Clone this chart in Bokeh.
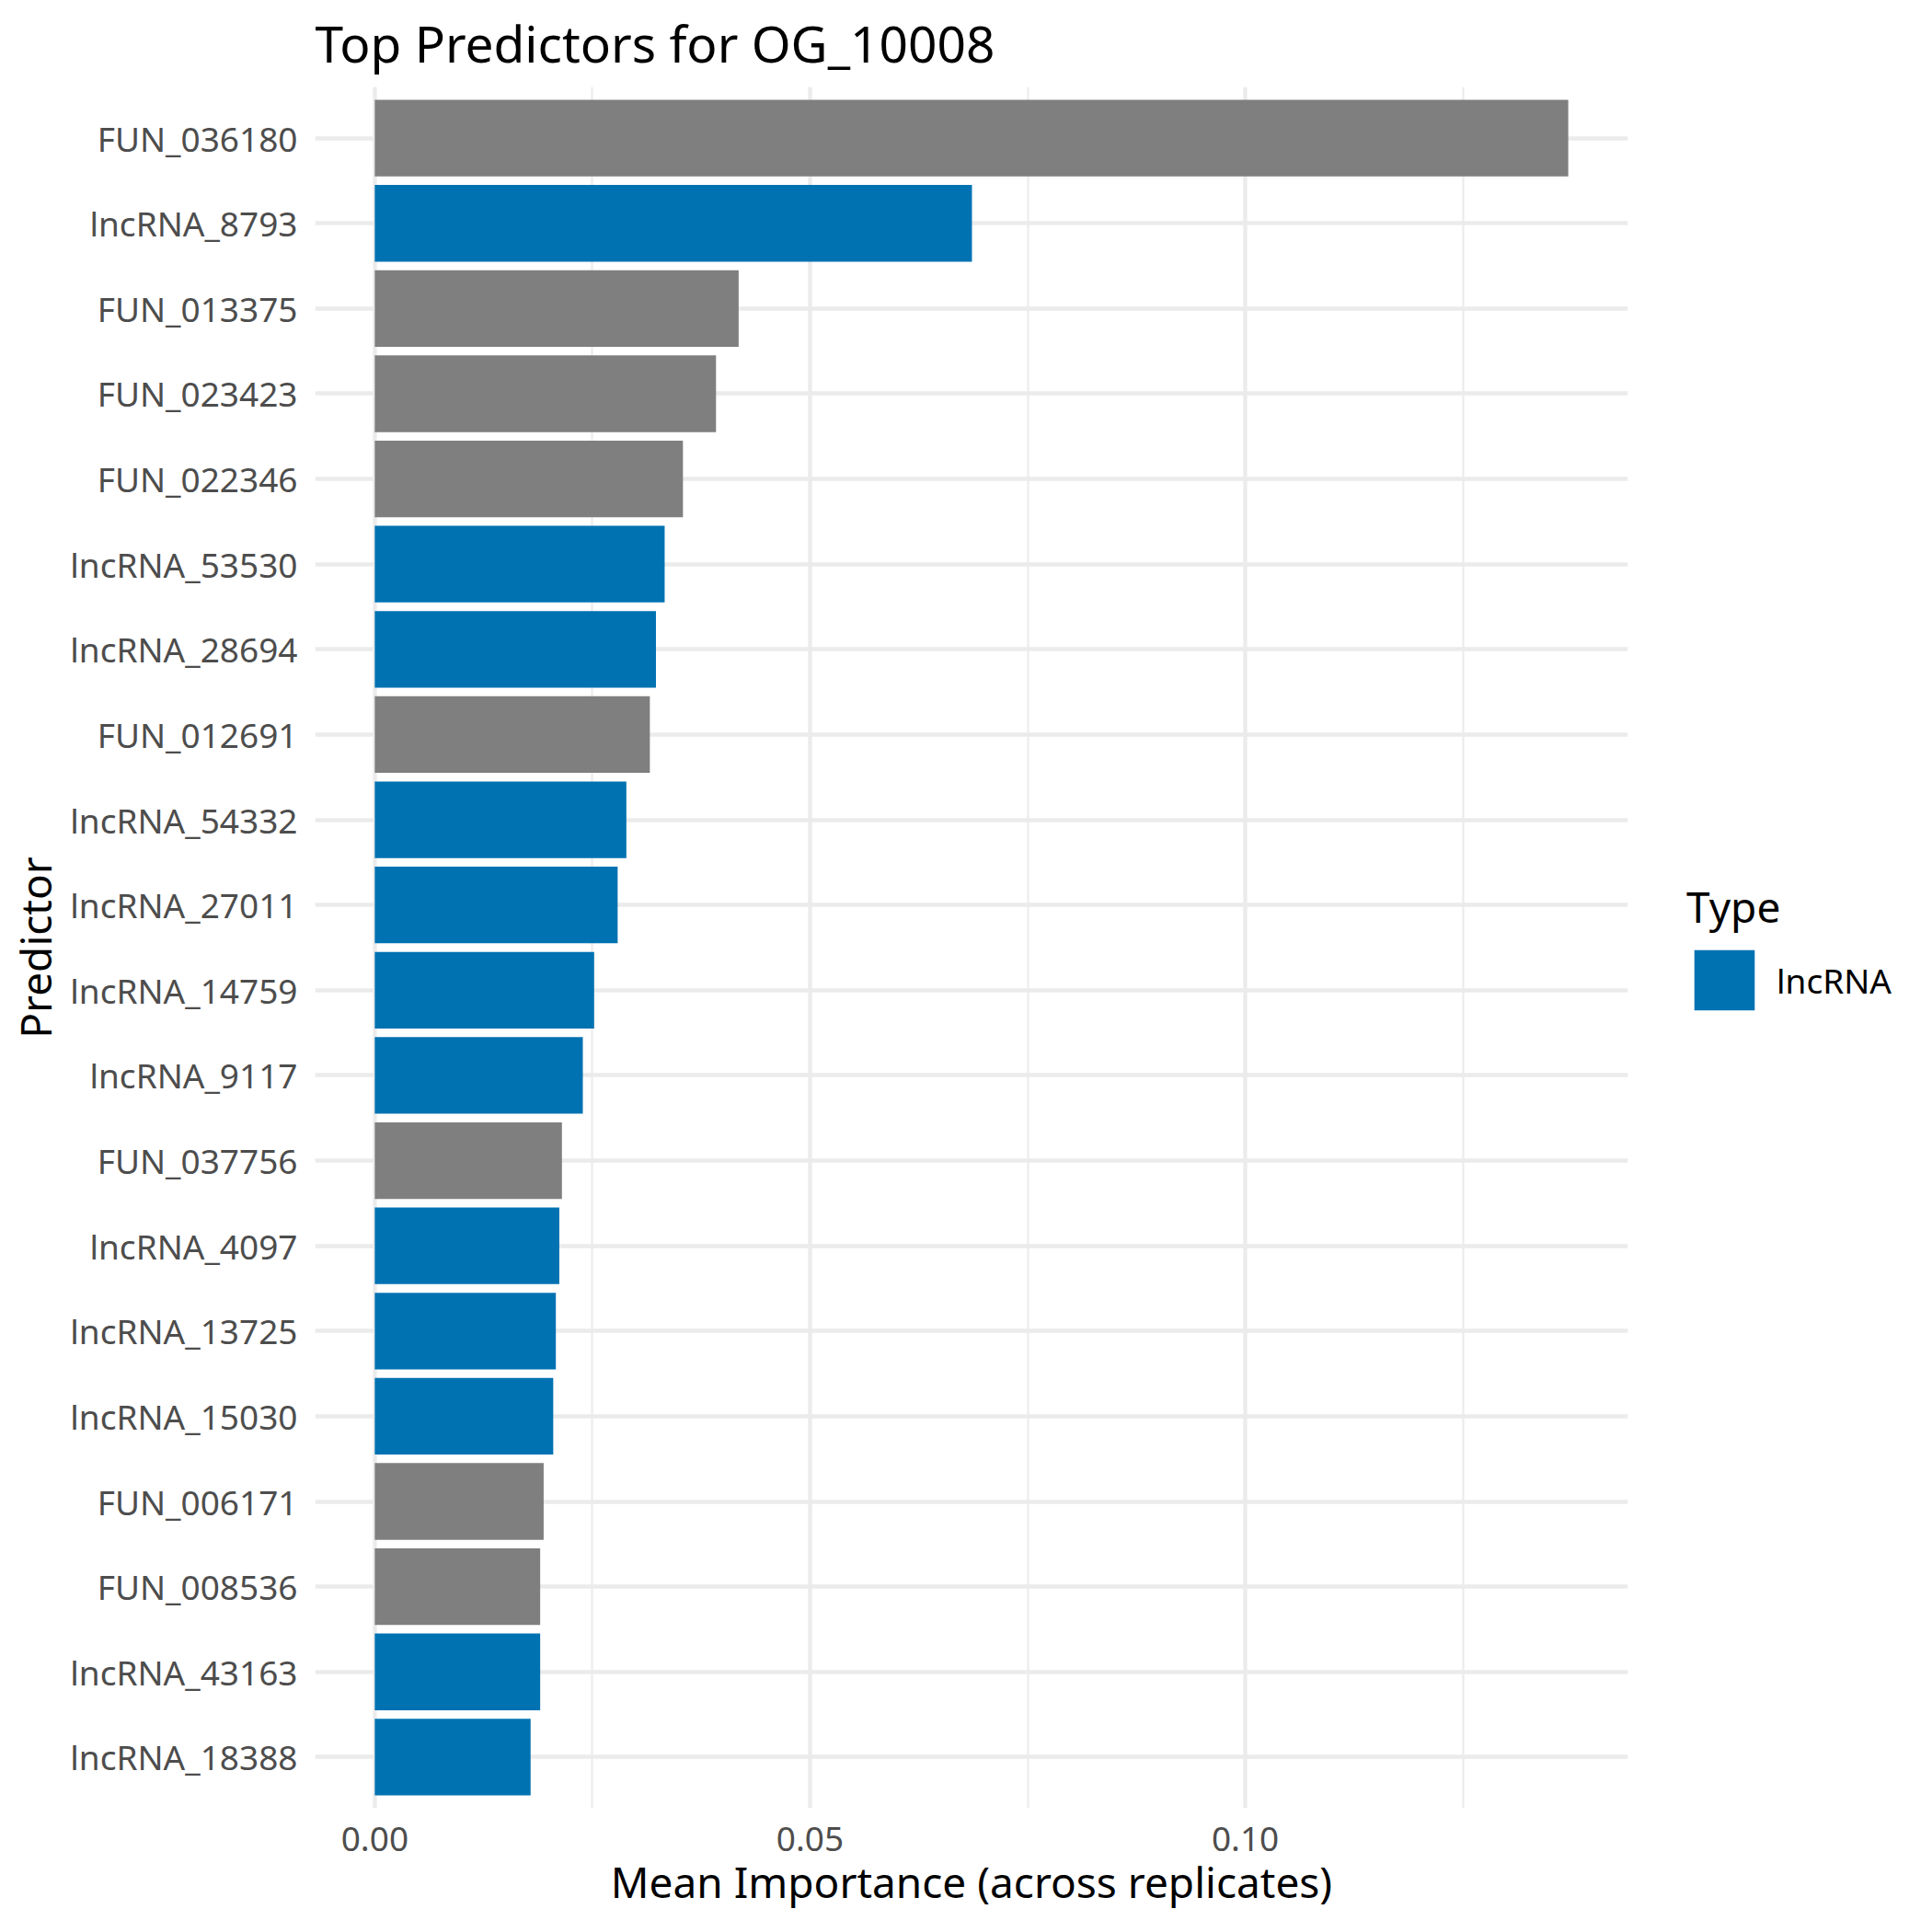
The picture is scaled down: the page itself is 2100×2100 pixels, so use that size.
from bokeh.plotting import figure
from bokeh.models import ColumnDataSource, FactorRange, Range1d, Legend, LegendItem, FixedTicker, NumeralTickFormatter
from bokeh.embed import file_html
from bokeh.resources import INLINE

# ---- data (top to bottom as shown) ----
predictors = ["FUN_036180", "lncRNA_8793", "FUN_013375", "FUN_023423", "FUN_022346",
              "lncRNA_53530", "lncRNA_28694", "FUN_012691", "lncRNA_54332", "lncRNA_27011",
              "lncRNA_14759", "lncRNA_9117", "FUN_037756", "lncRNA_4097", "lncRNA_13725",
              "lncRNA_15030", "FUN_006171", "FUN_008536", "lncRNA_43163", "lncRNA_18388"]
importance = [0.1371, 0.0686, 0.0418, 0.0392, 0.0354,
              0.0333, 0.0323, 0.0316, 0.0289, 0.0279,
              0.0252, 0.0239, 0.0215, 0.0212, 0.0208,
              0.0205, 0.0194, 0.0190, 0.0190, 0.0179]
pred_type = ["FUN" if s.startswith("FUN") else "lncRNA" for s in predictors]

x_ticks = [0.0, 0.05, 0.10]
x_minor = [0.025, 0.075, 0.125]

FONT = "Noto Sans"
GRID = "#EBEBEB"
BLUE = "#0072B2"
GREY = "#7F7F7F"

xmax = max(importance)
pad = 0.05 * xmax

p = figure(
    frame_width=1427, frame_height=1871,
    y_range=FactorRange(factors=list(reversed(predictors)), range_padding=0.1,
                        range_padding_units="absolute"),
    x_range=Range1d(-pad, xmax + pad),
    output_backend="svg", toolbar_location=None,
    min_border_left=342, min_border_right=315, min_border_top=94, min_border_bottom=119,
    title="Top Predictors for OG_10008",
    x_axis_label="Mean Importance (across replicates)",
    y_axis_label="Predictor",
)
p.outline_line_color = None
p.background_fill_color = "white"
p.border_fill_color = "white"

fun_src = ColumnDataSource(dict(
    predictor=[s for s, t in zip(predictors, pred_type) if t == "FUN"],
    importance=[v for v, t in zip(importance, pred_type) if t == "FUN"]))
lnc_src = ColumnDataSource(dict(
    predictor=[s for s, t in zip(predictors, pred_type) if t == "lncRNA"],
    importance=[v for v, t in zip(importance, pred_type) if t == "lncRNA"]))

p.hbar(y="predictor", left=0, right="importance", height=0.9, source=fun_src,
       fill_color=GREY, line_color=None)
r_lnc = p.hbar(y="predictor", left=0, right="importance", height=0.9, source=lnc_src,
               fill_color=BLUE, line_color=None)

# title
p.title.text_font = FONT
p.title.text_font_size = "55px"
p.title.text_font_style = "normal"
p.title.text_color = "black"
p.title.align = "left"
p.title.vertical_align = "top"
p.title.standoff = 17

# axes
p.xaxis.ticker = FixedTicker(ticks=x_ticks, minor_ticks=x_minor)
p.xaxis.formatter = NumeralTickFormatter(format="0.00")
for ax in (p.xaxis[0], p.yaxis[0]):
    ax.axis_line_color = None
    ax.major_tick_line_color = None
    ax.minor_tick_line_color = None
    ax.major_tick_out = 0
    ax.major_tick_in = 0
    ax.minor_tick_out = 0
    ax.minor_tick_in = 0
    ax.major_label_text_font = FONT
    ax.major_label_text_font_size = "37px"
    ax.major_label_text_color = "#4D4D4D"
    ax.axis_label_text_font = FONT
    ax.axis_label_text_font_size = "46px"
    ax.axis_label_text_font_style = "normal"
    ax.axis_label_text_color = "black"
p.yaxis.major_label_standoff = 19
p.yaxis.axis_label_standoff = 4
p.xaxis.major_label_standoff = 20
p.xaxis.axis_label_standoff = -1

# grid
p.xgrid.grid_line_color = GRID
p.xgrid.grid_line_width = 4.3
p.xgrid.minor_grid_line_color = GRID
p.xgrid.minor_grid_line_width = 2.1
p.ygrid.grid_line_color = GRID
p.ygrid.grid_line_width = 4.3

# legend
legend = Legend(items=[LegendItem(label="lncRNA", renderers=[r_lnc])],
                title="Type", location=(64, 859), margin=0, padding=0,
                glyph_width=82, glyph_height=82, label_standoff=16, spacing=0,
                title_standoff=8, border_line_color=None, background_fill_alpha=0)
legend.title_text_font = FONT
legend.title_text_font_size = "46px"
legend.title_text_font_style = "normal"
legend.title_text_color = "black"
legend.label_text_font = FONT
legend.label_text_font_size = "37px"
legend.label_text_color = "black"
p.add_layout(legend, "right")

open("out.html", "w").write(file_html(p, INLINE))
